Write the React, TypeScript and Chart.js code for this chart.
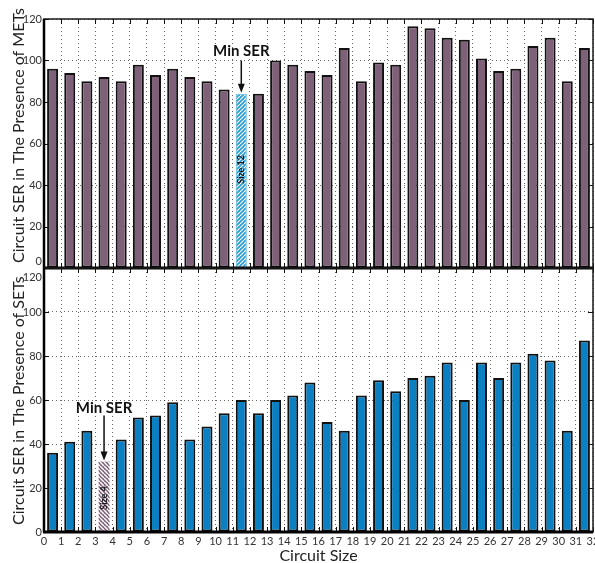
import React, { useEffect, useRef } from 'react';
import { Chart, registerables } from 'chart.js';

Chart.register(...registerables);

const FONT = 'Lato, "Open Sans", sans-serif';

// ---- data ----
const circuitIndex = [0, 1, 2, 3, 4, 5, 6, 7, 8, 9, 10, 11, 12, 13, 14, 15, 16, 17, 18, 19, 20, 21, 22, 23, 24, 25, 26, 27, 28, 29, 30, 31];
const serMETs = [96, 94, 90, 92, 90, 98, 93, 96, 92, 90, 86, 84, 84, 100, 98, 95, 93, 106, 90, 99, 98, 116.5, 115.5, 111, 110, 101, 95, 96, 107, 111, 90, 106];
const serSETs = [36, 41, 46, 32, 42, 52, 53, 59, 42, 48, 54, 60, 54, 60, 62, 68, 50, 46, 62, 69, 64, 70, 71, 77, 60, 77, 70, 77, 81, 78, 46, 87];
const yTickValues = [0, 20, 40, 60, 80, 100, 120];
const xTickLabels = ['0', '1', '2', '3', '4', '5', '6', '7', '8', '9', '10', '11', '12', '13', '14', '15', '16', '17', '18', '19', '20', '21', '22', '23', '24', '25', '26', '27', '28', '29', '30', '31', '32'];
const metsMinIndex = 11;
const setsMinIndex = 3;
const metsMinLabel = 'Size 12';
const setsMinLabel = 'Size 4';
const annotationText = 'Min SER';
const metsTitle = 'Circuit SER in The Presence of METs';
const setsTitle = 'Circuit SER in The Presence of SETs';
const xTitle = 'Circuit Size';

type PanelCfg = {
  values: number[];
  color: string;
  minIndex: number;
  hatchBg: string;
  hatchFg: string;
  hatchDir: '/' | '\\';
  hatchLw: number;
  hatchBorder: string;
  hatchBorderWidth: number;
  sizeLabel: string;
  sizeLabelValue: number;
  textValue: number;
  arrowFrom: number;
  title: string;
  titleStartY: number; // canvas coords
  showX: boolean;
  canvasTop: number;
  canvasHeight: number;
  padTop: number;
  xHeight: number;
  clampZero: boolean;
  clampTop: boolean;
};

function makeHatch(ctx: CanvasRenderingContext2D, bg: string, fg: string, dir: string, lw: number) {
  const size = 4;
  const c = document.createElement('canvas');
  c.width = size;
  c.height = size;
  const g = c.getContext('2d')!;
  g.fillStyle = bg;
  g.fillRect(0, 0, size, size);
  g.strokeStyle = fg;
  g.lineWidth = lw;
  for (const k of [-size, 0, size]) {
    g.beginPath();
    if (dir === '/') {
      g.moveTo(k, size);
      g.lineTo(k + size, 0);
    } else {
      g.moveTo(k, 0);
      g.lineTo(k + size, size);
    }
    g.stroke();
  }
  return ctx.createPattern(c, 'repeat') as CanvasPattern;
}

function Panel({ cfg }: { cfg: PanelCfg }) {
  const ref = useRef<HTMLCanvasElement>(null);
  useEffect(() => {
    const canvas = ref.current!;
    const ctx0 = canvas.getContext('2d')!;
    const hatch = makeHatch(ctx0, cfg.hatchBg, cfg.hatchFg, cfg.hatchDir, cfg.hatchLw);
    const bg = circuitIndex.map((i) => (i === cfg.minIndex ? hatch : cfg.color));
    const bc = circuitIndex.map((i) => (i === cfg.minIndex ? cfg.hatchBorder : '#111111'));
    const bw = circuitIndex.map((i) => (i === cfg.minIndex ? cfg.hatchBorderWidth : 2));

    const plugin = {
      id: 'panelDecor',
      afterDatasetsDraw(chart: any) {
        const { ctx, chartArea: a, scales } = chart;
        const xs = scales.x;
        const ys = scales.y;
        ctx.save();
        // inward ticks
        ctx.strokeStyle = '#111';
        ctx.lineWidth = 1;
        ctx.setLineDash([]);
        xTickLabels.forEach((_, i) => {
          const px = Math.round(xs.getPixelForValue(i)) + 0.5;
          ctx.beginPath();
          ctx.moveTo(px, a.top);
          ctx.lineTo(px, a.top + 5);
          ctx.moveTo(px, a.bottom);
          ctx.lineTo(px, a.bottom - 5);
          ctx.stroke();
        });
        yTickValues.forEach((v) => {
          const py = Math.round(ys.getPixelForValue(v)) + 0.5;
          ctx.beginPath();
          ctx.moveTo(a.left, py);
          ctx.lineTo(a.left + 5, py);
          ctx.moveTo(a.right, py);
          ctx.lineTo(a.right - 5, py);
          ctx.stroke();
        });
        // frame
        ctx.strokeStyle = '#1a1a1a';
        ctx.lineWidth = 1.5;
        ctx.strokeRect(a.left, a.top, a.right - a.left, a.bottom - a.top);
        ctx.strokeStyle = '#000';
        ctx.lineWidth = 2.5;
        ctx.beginPath();
        ctx.moveTo(a.left, a.top);
        ctx.lineTo(a.left, a.bottom);
        ctx.stroke();
        ctx.lineWidth = 3;
        ctx.beginPath();
        ctx.moveTo(a.left - 1, a.bottom);
        ctx.lineTo(a.right, a.bottom);
        ctx.stroke();

        // y tick labels
        ctx.font = `11px ${FONT}`;
        ctx.fillStyle = '#333';
        ctx.textAlign = 'right';
        ctx.textBaseline = 'middle';
        yTickValues.forEach((v) => {
          let py = ys.getPixelForValue(v);
          if (cfg.clampZero) py = Math.min(py, a.bottom - 7);
          if (cfg.clampTop) py = Math.max(py, a.top + 9);
          ctx.fillText(String(v), a.left - 2, py);
        });

        // size label inside hatched bar
        const bx = xs.getPixelForValue(cfg.minIndex + 0.5);
        ctx.save();
        ctx.translate(bx, ys.getPixelForValue(cfg.sizeLabelValue));
        ctx.rotate(-Math.PI / 2);
        ctx.font = `bold 9px ${FONT}`;
        ctx.fillStyle = '#1a1a1a';
        ctx.textAlign = 'center';
        ctx.textBaseline = 'middle';
        ctx.fillText(cfg.sizeLabel, 0, 0);
        ctx.restore();

        // Min SER annotation
        ctx.font = `bold 15px ${FONT}`;
        ctx.fillStyle = '#111';
        ctx.textAlign = 'center';
        ctx.textBaseline = 'middle';
        ctx.fillText(annotationText, bx, ys.getPixelForValue(cfg.textValue));
        const tipY = ys.getPixelForValue(cfg.values[cfg.minIndex]) - 1;
        const fromY = ys.getPixelForValue(cfg.arrowFrom);
        ctx.strokeStyle = '#111';
        ctx.lineWidth = 1.5;
        ctx.beginPath();
        ctx.moveTo(bx, fromY);
        ctx.lineTo(bx, tipY - 6);
        ctx.stroke();
        ctx.beginPath();
        ctx.moveTo(bx - 3.5, tipY - 9);
        ctx.lineTo(bx + 3.5, tipY - 9);
        ctx.lineTo(bx, tipY);
        ctx.closePath();
        ctx.fill();

        // y title
        ctx.save();
        ctx.translate(19, cfg.titleStartY);
        ctx.rotate(-Math.PI / 2);
        ctx.font = `16px ${FONT}`;
        ctx.fillStyle = '#222';
        ctx.textAlign = 'left';
        ctx.textBaseline = 'middle';
        ctx.fillText(cfg.title, 0, 0);
        ctx.restore();

        if (cfg.showX) {
          ctx.font = `16px ${FONT}`;
          ctx.fillStyle = '#222';
          ctx.textAlign = 'center';
          ctx.textBaseline = 'top';
          ctx.fillText(xTitle, (a.left + a.right) / 2, 548 - cfg.canvasTop);
        }
        ctx.restore();
      },
    };

    const chart = new Chart(canvas, {
      type: 'bar',
      data: {
        datasets: [
          {
            data: circuitIndex.map((i) => ({ x: i + 0.5, y: cfg.values[i] })),
            backgroundColor: bg as any,
            borderColor: bc,
            borderWidth: bw,
            borderSkipped: false,
            barPercentage: 0.64,
            categoryPercentage: 1,
          },
        ],
      },
      options: {
        responsive: false,
        animation: false,
        events: [],
        layout: { padding: { top: cfg.padTop, right: 2, bottom: 0, left: 0 } },
        plugins: { legend: { display: false }, tooltip: { enabled: false } },
        scales: {
          x: {
            type: 'linear',
            min: 0,
            max: 32,
            offset: false,
            grid: { offset: false, color: 'rgba(0,0,0,0.6)', lineWidth: 1, drawTicks: false },
            border: { display: false, dash: [1, 3] },
            ticks: {
              display: cfg.showX,
              stepSize: 1,
              autoSkip: false,
              maxRotation: 0,
              maxTicksLimit: 100,
              padding: 3,
              font: { family: FONT, size: 11 },
              color: '#333',
              callback: (v: any) => xTickLabels[Number(v)] ?? '',
            },
            afterFit: (s: any) => {
              s.height = cfg.xHeight;
              s.paddingLeft = 0;
              s.paddingRight = 0;
            },
          },
          y: {
            min: 0,
            max: 120,
            grid: { color: 'rgba(0,0,0,0.6)', lineWidth: 1, drawTicks: false },
            border: { display: false, dash: [1, 3] },
            ticks: { display: false, stepSize: 20 },
            afterFit: (s: any) => {
              s.width = 44;
              s.paddingTop = 0;
              s.paddingBottom = 0;
            },
          },
        },
      },
      plugins: [plugin],
    } as any);
    return () => chart.destroy();
  }, [cfg]);
  return (
    <canvas
      ref={ref}
      width={595}
      height={cfg.canvasHeight}
      style={{ position: 'absolute', left: 0, top: cfg.canvasTop, display: 'block' }}
    />
  );
}

const topCfg: PanelCfg = {
  values: serMETs,
  color: '#7f6079',
  minIndex: metsMinIndex,
  hatchBg: '#2f9fd6',
  hatchFg: '#ffffff',
  hatchDir: '/',
  hatchLw: 1.1,
  hatchBorder: '#5ab6e0',
  hatchBorderWidth: 1,
  sizeLabel: metsMinLabel,
  sizeLabelValue: 47.5,
  textValue: 104.5,
  arrowFrom: 100,
  title: metsTitle,
  titleStartY: 263,
  showX: false,
  canvasTop: 0,
  canvasHeight: 275,
  padTop: 19,
  xHeight: 7,
  clampZero: true,
  clampTop: false,
};

const bottomCfg: PanelCfg = {
  values: serSETs,
  color: '#0a7fc1',
  minIndex: setsMinIndex,
  hatchBg: '#7d5c78',
  hatchFg: '#ffffff',
  hatchDir: '\\',
  hatchLw: 1.5,
  hatchBorder: '#9a8096',
  hatchBorderWidth: 0,
  sizeLabel: setsMinLabel,
  sizeLabelValue: 15.5,
  textValue: 56.4,
  arrowFrom: 53,
  title: setsTitle,
  titleStartY: 525 - 262,
  showX: true,
  canvasTop: 262,
  canvasHeight: 301,
  padTop: 6,
  xHeight: 31,
  clampZero: false,
  clampTop: true,
};

export default function App() {
  return (
    <div style={{ position: 'absolute', left: 0, top: 0, width: 595, height: 563, background: '#fff', overflow: 'hidden' }}>
      <Panel cfg={topCfg} />
      <Panel cfg={bottomCfg} />
    </div>
  );
}
